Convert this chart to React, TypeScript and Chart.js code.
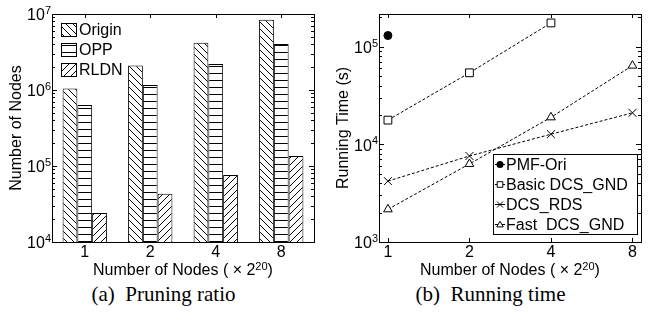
import React, { useEffect, useRef } from 'react';
import { Chart, registerables } from 'chart.js';
Chart.register(...registerables);

const FONT = "'Liberation Sans', Arial, Helvetica, sans-serif";

// (a) Pruning ratio
const nodeGroups = ['1', '2', '4', '8'];
const originNodes = [1.05e6, 2.1e6, 4.2e6, 8.4e6];
const oppNodes = [6.35e5, 1.16e6, 2.2e6, 4.03e6];
const rldnNodes = [2.4e4, 4.3e4, 7.6e4, 1.35e5];
const barSeriesNames = ['Origin', 'OPP', 'RLDN'];
const nodesYMin = 1e4;
const nodesYMax = 1e7;

// (b) Running time
const nodeScale = [1, 2, 4, 8];
const pmfOriTime = [1.3e5];
const basicGndTime = [1.77e4, 5.4e4, 1.75e5];
const dcsRdsTime = [4.2e3, 7.6e3, 1.27e4, 2.1e4];
const fastGndTime = [2.16e3, 6.3e3, 1.89e4, 6.4e4];
const lineSeriesNames = ['PMF-Ori', 'Basic DCS_GND', 'DCS_RDS', 'Fast  DCS_GND'];
const timeYMin = 1e3;
const timeYMax = 2.16e5;
const timeXMin = 0.927;
const timeXMax = 8.6;

const xTitleMain = 'Number of Nodes ( × 2';
const xTitleSup = '20';
const xTitleEnd = ')';
const yTitleA = 'Number of Nodes';
const yTitleB = 'Running Time (s)';
const captionA = '(a)  Pruning ratio';
const captionB = '(b)  Running time';

const FS = 16;
const SUP_FS = 11;

function makePattern(kind: 'back' | 'fwd' | 'horiz', s = 7): any {
  const c = document.createElement('canvas');
  c.width = s;
  c.height = s;
  const g = c.getContext('2d')!;
  g.fillStyle = '#fff';
  g.fillRect(0, 0, s, s);
  g.strokeStyle = '#000';
  g.lineWidth = 1;
  g.beginPath();
  if (kind === 'horiz') {
    g.moveTo(0, s / 2);
    g.lineTo(s, s / 2);
  } else if (kind === 'back') {
    g.moveTo(-1, -1);
    g.lineTo(s + 1, s + 1);
    g.moveTo(-1, s - 1);
    g.lineTo(1, s + 1);
    g.moveTo(s - 1, -1);
    g.lineTo(s + 1, 1);
  } else {
    g.moveTo(-1, s + 1);
    g.lineTo(s + 1, -1);
    g.moveTo(-1, 1);
    g.lineTo(1, -1);
    g.moveTo(s - 1, s + 1);
    g.lineTo(s + 1, s - 1);
  }
  g.stroke();
  return g.createPattern(c, 'repeat');
}

const fontMain = { family: FONT, size: FS };

// inward ticks, frame box, power-of-ten y labels and x-axis title with superscript
const framePlugin = {
  id: 'frame',
  beforeDatasetsDraw(chart: any) {
    const { ctx, chartArea: a } = chart;
    const xs = chart.scales.x;
    const ys = chart.scales.y;
    ctx.save();
    ctx.strokeStyle = '#000';
    ctx.lineWidth = 1;
    ctx.beginPath();
    xs.ticks.forEach((_t: any, i: number) => {
      const px = Math.round(xs.getPixelForTick(i)) + 0.5;
      ctx.moveTo(px, a.bottom);
      ctx.lineTo(px, a.bottom - 4);
      ctx.moveTo(px, a.top);
      ctx.lineTo(px, a.top + 4);
    });
    const e0 = Math.floor(Math.log10(ys.min));
    const e1 = Math.ceil(Math.log10(ys.max));
    for (let e = e0; e <= e1; e++) {
      for (let m = 1; m <= 9; m++) {
        const v = m * Math.pow(10, e);
        if (v < ys.min * 0.999 || v > ys.max * 1.001) continue;
        const py = Math.round(ys.getPixelForValue(v)) + 0.5;
        const len = m === 1 ? 5 : 3;
        ctx.moveTo(a.left, py);
        ctx.lineTo(a.left + len, py);
        ctx.moveTo(a.right, py);
        ctx.lineTo(a.right - len, py);
      }
    }
    ctx.stroke();
    ctx.restore();
  },
  afterDatasetsDraw(chart: any) {
    const { ctx, chartArea: a } = chart;
    const ys = chart.scales.y;
    ctx.save();
    ctx.strokeStyle = '#000';
    ctx.lineWidth = 1;
    ctx.strokeRect(Math.round(a.left) + 0.5, Math.round(a.top) + 0.5, Math.round(a.right - a.left), Math.round(a.bottom - a.top));

    // y labels 10^n
    ctx.fillStyle = '#000';
    const e0 = Math.ceil(Math.log10(ys.min) - 1e-9);
    const e1 = Math.floor(Math.log10(ys.max) + 1e-9);
    for (let e = e0; e <= e1; e++) {
      const py = ys.getPixelForValue(Math.pow(10, e));
      const xr = a.left - 1;
      ctx.font = `${SUP_FS}px ${FONT}`;
      ctx.textAlign = 'right';
      ctx.textBaseline = 'alphabetic';
      const sup = String(e);
      const sw = ctx.measureText(sup).width;
      ctx.fillText(sup, xr, py);
      ctx.font = `${FS}px ${FONT}`;
      ctx.textBaseline = 'middle';
      ctx.fillText('10', xr - sw, py + 2);
    }

    // x title
    const cx = (a.left + a.right) / 2;
    const ty = 271;
    ctx.font = `${FS}px ${FONT}`;
    const w1 = ctx.measureText(xTitleMain).width;
    const w3 = ctx.measureText(xTitleEnd).width;
    ctx.font = `${SUP_FS}px ${FONT}`;
    const w2 = ctx.measureText(xTitleSup).width;
    let x = cx - (w1 + w2 + w3) / 2;
    ctx.textAlign = 'left';
    ctx.textBaseline = 'middle';
    ctx.font = `${FS}px ${FONT}`;
    ctx.fillText(xTitleMain, x, ty);
    x += w1;
    ctx.font = `${SUP_FS}px ${FONT}`;
    ctx.textBaseline = 'alphabetic';
    ctx.fillText(xTitleSup, x, ty - 1);
    x += w2;
    ctx.font = `${FS}px ${FONT}`;
    ctx.textBaseline = 'middle';
    ctx.fillText(xTitleEnd, x, ty);
    ctx.restore();
  },
};

const barLegendPlugin = {
  id: 'barLegend',
  afterDraw(chart: any) {
    const { ctx, chartArea: a } = chart;
    const x0 = Math.round(a.left) + 9;
    ctx.save();
    chart.data.datasets.forEach((ds: any, i: number) => {
      const cy = Math.round(a.top) + 16 + i * 20;
      ctx.fillStyle = ds.backgroundColor;
      ctx.fillRect(x0, cy - 7, 16, 14);
      ctx.strokeStyle = '#000';
      ctx.lineWidth = 1;
      ctx.strokeRect(x0 + 0.5, cy - 6.5, 15, 13);
      ctx.fillStyle = '#000';
      ctx.font = `${FS}px ${FONT}`;
      ctx.textBaseline = 'middle';
      ctx.textAlign = 'left';
      ctx.fillText(ds.label, x0 + 18, cy + 1);
    });
    ctx.restore();
  },
};

function drawMarker(ctx: CanvasRenderingContext2D, style: string, x: number, y: number, r: number) {
  ctx.beginPath();
  if (style === 'circle') {
    ctx.arc(x, y, r, 0, Math.PI * 2);
    ctx.fillStyle = '#000';
    ctx.fill();
    return;
  }
  if (style === 'rect') {
    ctx.rect(x - r, y - r, 2 * r, 2 * r);
    ctx.fillStyle = '#fff';
    ctx.fill();
    ctx.stroke();
    return;
  }
  if (style === 'crossRot') {
    ctx.moveTo(x - r, y - r);
    ctx.lineTo(x + r, y + r);
    ctx.moveTo(x - r, y + r);
    ctx.lineTo(x + r, y - r);
    ctx.stroke();
    return;
  }
  if (style === 'triangle') {
    ctx.moveTo(x, y - r * 1.1);
    ctx.lineTo(x + r * 1.1, y + r * 0.8);
    ctx.lineTo(x - r * 1.1, y + r * 0.8);
    ctx.closePath();
    ctx.fillStyle = '#fff';
    ctx.fill();
    ctx.stroke();
  }
}

const lineLegendPlugin = {
  id: 'lineLegend',
  afterDraw(chart: any) {
    const { ctx, chartArea: a } = chart;
    const left = Math.round(a.right) - 148;
    const right = Math.round(a.right) - 4;
    const top = Math.round(a.bottom) - 88;
    const bottom = Math.round(a.bottom) - 8;
    ctx.save();
    ctx.fillStyle = '#fff';
    ctx.fillRect(left, top, right - left, bottom - top);
    ctx.strokeStyle = '#000';
    ctx.lineWidth = 1;
    ctx.strokeRect(left + 0.5, top + 0.5, right - left, bottom - top);
    chart.data.datasets.forEach((ds: any, i: number) => {
      const cy = top + 10.5 + i * 20;
      const mx = left + 7;
      ctx.strokeStyle = '#000';
      ctx.lineWidth = 1;
      ctx.setLineDash([]);
      ctx.beginPath();
      ctx.moveTo(mx - 5, cy);
      ctx.lineTo(mx + 5, cy);
      ctx.stroke();
      const st = ds.pointStyle;
      const r = st === 'circle' ? 3.5 : st === 'rect' ? 2.8 : 3;
      drawMarker(ctx, st, mx, cy, r);
      ctx.fillStyle = '#000';
      ctx.font = `${FS}px ${FONT}`;
      ctx.textBaseline = 'middle';
      ctx.textAlign = 'left';
      ctx.fillText(ds.label, left + 13, cy + 1);
    });
    ctx.restore();
  },
};

const AXIS_W = 52;
const X_AXIS_H = 38;

function commonY(min: number, max: number, title: string) {
  return {
    type: 'logarithmic' as const,
    min,
    max,
    afterFit: (s: any) => {
      s.width = AXIS_W;
    },
    grid: { display: false, drawTicks: false },
    border: { display: false },
    ticks: { display: false },
    title: { display: true, text: title, color: '#000', font: fontMain, padding: { top: 7, bottom: 0 } },
  };
}

function commonX() {
  return {
    afterFit: (s: any) => {
      s.height = X_AXIS_H;
    },
    grid: { display: false, drawTicks: false },
    border: { display: false },
    title: { display: false },
  };
}

function BarChart() {
  const ref = useRef<HTMLCanvasElement>(null);
  useEffect(() => {
    const pats = [makePattern('back'), makePattern('horiz'), makePattern('fwd')];
    const values = [originNodes, oppNodes, rldnNodes];
    const chart = new Chart(ref.current!, {
      type: 'bar',
      data: {
        labels: nodeGroups,
        datasets: barSeriesNames.map((name, i) => ({
          label: name,
          data: values[i],
          backgroundColor: pats[i],
          borderColor: '#000',
          borderWidth: 1,
          categoryPercentage: 0.677,
          barPercentage: 1,
        })),
      },
      options: {
        animation: false,
        responsive: false,
        devicePixelRatio: 1,
        events: [],
        layout: { padding: { left: 0, right: 13, top: 14, bottom: 0 } },
        scales: {
          x: {
            type: 'category',
            offset: true,
            ...commonX(),
            ticks: { autoSkip: false, maxRotation: 0, padding: 1, color: '#000', font: fontMain },
          } as any,
          y: commonY(nodesYMin, nodesYMax, yTitleA) as any,
        },
        plugins: { legend: { display: false }, tooltip: { enabled: false } },
      },
      plugins: [framePlugin, barLegendPlugin],
    });
    return () => chart.destroy();
  }, []);
  return <canvas ref={ref} width={327} height={280} style={{ position: 'absolute', left: 0, top: 0 }} />;
}

function LineChart() {
  const ref = useRef<HTMLCanvasElement>(null);
  useEffect(() => {
    const series = [pmfOriTime, basicGndTime, dcsRdsTime, fastGndTime];
    const styles = ['circle', 'rect', 'crossRot', 'triangle'];
    const radii = [4, 5.5, 5.6, 5];
    const chart = new Chart(ref.current!, {
      type: 'line',
      data: {
        datasets: lineSeriesNames.map((name, i) => ({
          label: name,
          data: series[i].map((y, j) => ({ x: nodeScale[j], y })),
          showLine: i !== 0,
          borderColor: '#000',
          borderWidth: 1,
          borderDash: [3, 2],
          pointStyle: styles[i],
          pointRadius: radii[i],
          pointBorderColor: '#000',
          pointBorderWidth: 1,
          pointBackgroundColor: i === 0 ? '#000' : '#fff',
          fill: false,
          tension: 0,
        })),
      },
      options: {
        animation: false,
        responsive: false,
        devicePixelRatio: 1,
        events: [],
        layout: { padding: { left: 0, right: 13, top: 14, bottom: 0 } },
        scales: {
          x: {
            type: 'logarithmic',
            min: timeXMin,
            max: timeXMax,
            afterBuildTicks: (s: any) => {
              s.ticks = nodeScale.map((v) => ({ value: v }));
            },
            ...commonX(),
            ticks: {
              autoSkip: false,
              maxRotation: 0,
              padding: 1,
              color: '#000',
              font: fontMain,
              callback: (v: any) => String(v),
            },
          } as any,
          y: commonY(timeYMin, timeYMax, yTitleB) as any,
        },
        plugins: { legend: { display: false }, tooltip: { enabled: false } },
      },
      plugins: [framePlugin, lineLegendPlugin],
    });
    return () => chart.destroy();
  }, []);
  return <canvas ref={ref} width={327} height={280} style={{ position: 'absolute', left: 327, top: 0 }} />;
}

const captionStyle: React.CSSProperties = {
  position: 'absolute',
  top: 282,
  width: 327,
  textAlign: 'center',
  fontFamily: "'Liberation Serif', 'Times New Roman', serif",
  fontSize: 21,
  lineHeight: '24px',
  whiteSpace: 'pre',
  color: '#000',
};

export default function App() {
  return (
    <div style={{ position: 'absolute', left: 0, top: 0, width: 654, height: 320, background: '#fff', overflow: 'hidden' }}>
      <BarChart />
      <LineChart />
      <div style={{ ...captionStyle, left: 0 }}>{captionA}</div>
      <div style={{ ...captionStyle, left: 327 }}>{captionB}</div>
    </div>
  );
}
